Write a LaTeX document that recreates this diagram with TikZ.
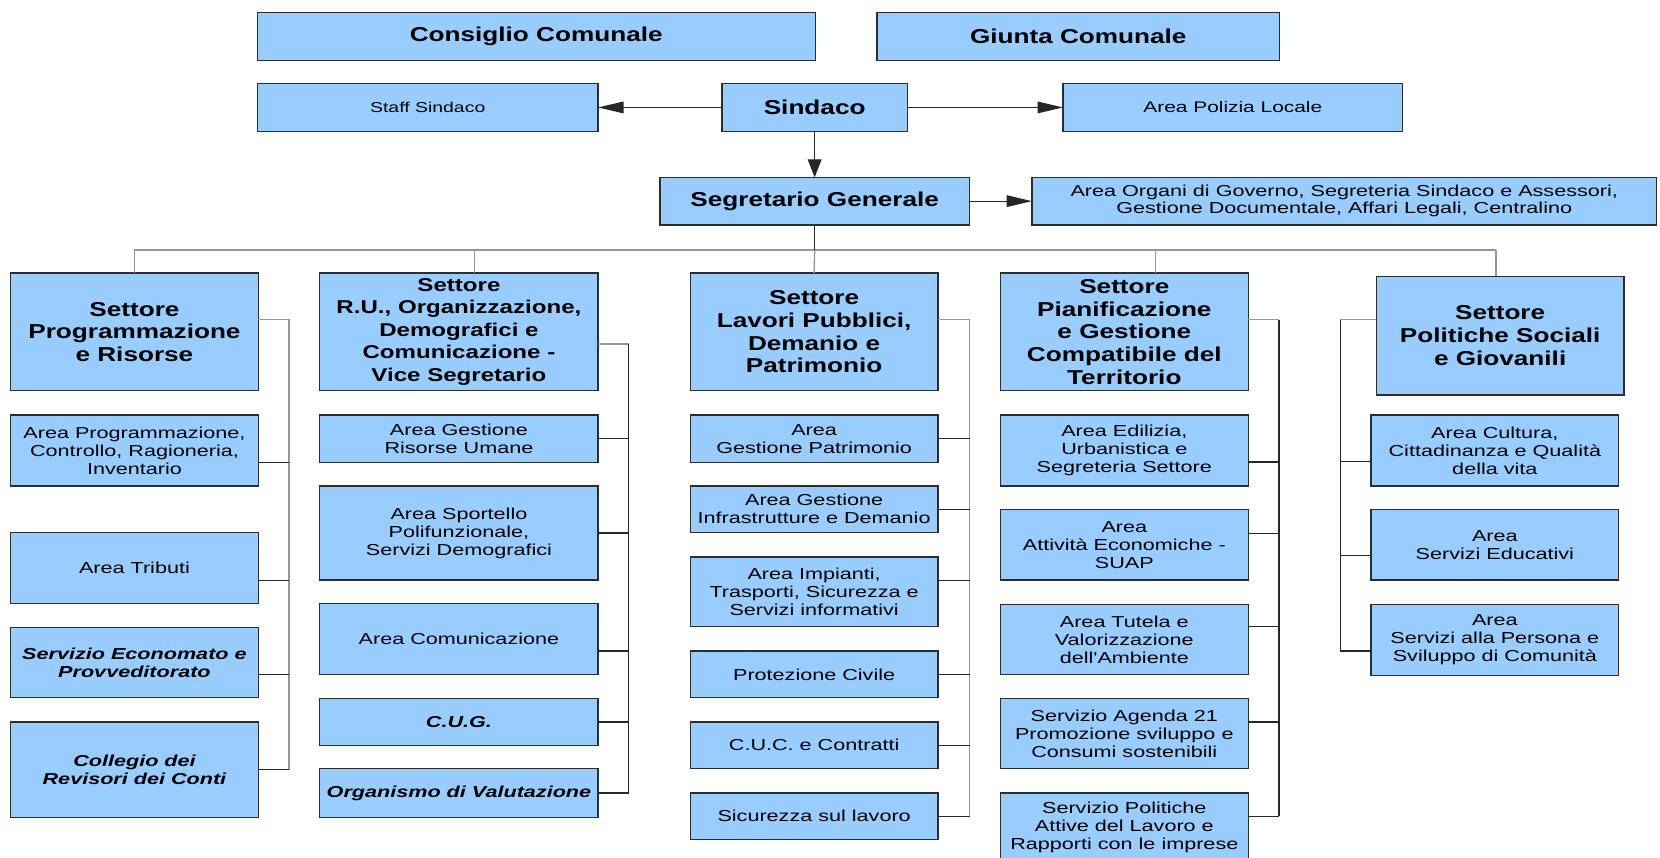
\documentclass[tikz,border=0pt]{standalone}
\usepackage{fontspec}
\newfontfamily\fontA{Liberation Sans}[FakeStretch=1.36]
\newfontfamily\fontB{Liberation Sans}[FakeStretch=1.30]
\usetikzlibrary{arrows.meta}
\definecolor{boxblue}{RGB}{153,204,255}
\definecolor{bordergray}{RGB}{45,45,45}
\definecolor{linegray}{RGB}{150,150,150}
\definecolor{linedark}{RGB}{40,40,40}
\tikzset{
  box/.style={draw=bordergray, line width=1.3pt, fill=boxblue, align=center, inner sep=0pt, outer sep=0pt},
  topb/.style={box, font=\fontB\bfseries\fontsize{19}{21}\selectfont},
  setb/.style={box, font=\fontB\bfseries\fontsize{19}{21.5}\selectfont},
  sm/.style={box, font=\fontA\fontsize{15}{17}\selectfont},
  smbi/.style={box, font=\fontA\bfseries\itshape\fontsize{15}{17.5}\selectfont},
  gl/.style={draw=linegray, line width=1.3pt},
  dl/.style={draw=linedark, line width=1.2pt},
  harrow/.style={draw=black!85, line width=1.1pt, -{Triangle[length=24pt,width=11pt]}},
  varrow/.style={draw=black!85, line width=1.1pt, -{Triangle[length=17pt,width=13pt]}},
}
\begin{document}
\begin{tikzpicture}[x=1pt,y=-1pt]
\path[use as bounding box, fill=white] (0,0) rectangle (1568,810);

% ---- top part ----
\node[topb, minimum width=527pt, minimum height=45pt] (cons) at (506.5,34.5) {Consiglio Comunale};
\node[topb, minimum width=380pt, minimum height=45pt] (giunta) at (1018.5,34.5) {Giunta Comunale};
\node[box, font=\fontA\fontsize{13.5}{15}\selectfont, minimum width=322pt, minimum height=45pt] (staff) at (404,101.5) {Staff Sindaco};
\node[topb, minimum width=175pt, minimum height=45pt] (sind) at (769.5,101.5) {Sindaco};
\node[box, font=\fontA\fontsize{14.5}{16}\selectfont, minimum width=321pt, minimum height=45pt] (poliz) at (1164.5,101.5) {Area Polizia Locale};
\node[topb, minimum width=292pt, minimum height=45pt] (segr) at (769.5,190) {Segretario Generale};
\node[box, font=\fontA\fontsize{15}{16}\selectfont, minimum width=590pt, minimum height=45pt] (organi) at (1269.75,190) {Area Organi di Governo, Segreteria Sindaco e Assessori,\\Gestione Documentale, Affari Legali, Centralino};

\draw[harrow] (sind.west) -- (staff.east);
\draw[harrow] (sind.east) -- (poliz.west);
\draw[varrow] (sind.south) -- (sind.south |- segr.north);
\draw[harrow] (segr.east) -- (organi.west);

% ---- column 1 ----
\node[setb, minimum width=234pt, minimum height=111pt] (c1s) at (127,313.5) {Settore\\Programmazione\\e Risorse};
\node[sm, minimum width=234pt, minimum height=67pt] (c1a) at (127,425.5) {Area Programmazione,\\Controllo, Ragioneria,\\Inventario};
\node[sm, minimum width=234pt, minimum height=67pt] (c1b) at (127,536.5) {Area Tributi};
\node[smbi, minimum width=234pt, minimum height=66pt] (c1c) at (127,626) {Servizio Economato e\\Provveditorato};
\node[smbi, minimum width=234pt, minimum height=90pt] (c1d) at (127,727) {Collegio dei\\Revisori dei Conti};

% ---- column 2 ----
\node[setb, font=\fontB\bfseries\fontsize{17.5}{21.3}\selectfont, minimum width=263pt, minimum height=111pt] (c2s) at (433.5,313.5) {Settore\\R.U., Organizzazione,\\Demografici e\\Comunicazione -\\Vice Segretario};
\node[sm, minimum width=263pt, minimum height=45pt] (c2a) at (433.5,414.5) {Area Gestione\\Risorse Umane};
\node[sm, minimum width=263pt, minimum height=89pt] (c2b) at (433.5,503.5) {Area Sportello\\Polifunzionale,\\Servizi Demografici};
\node[sm, minimum width=263pt, minimum height=67pt] (c2c) at (433.5,603.5) {Area Comunicazione};
\node[smbi, minimum width=263pt, minimum height=44pt] (c2d) at (433.5,682) {C.U.G.};
\node[smbi, minimum width=263pt, minimum height=46pt] (c2e) at (433.5,749) {Organismo di Valutazione};

% ---- column 3 ----
\node[setb, minimum width=234pt, minimum height=111pt] (c3s) at (769,313.5) {Settore\\Lavori Pubblici,\\Demanio e\\Patrimonio};
\node[sm, minimum width=234pt, minimum height=45pt] (c3a) at (769,414.5) {Area\\Gestione Patrimonio};
\node[sm, minimum width=234pt, minimum height=44pt] (c3b) at (769,481) {Area Gestione\\Infrastrutture e Demanio};
\node[sm, minimum width=234pt, minimum height=66pt] (c3c) at (769,559) {Area Impianti,\\Trasporti, Sicurezza e\\Servizi informativi};
\node[sm, minimum width=234pt, minimum height=44pt] (c3d) at (769,637) {Protezione Civile};
\node[sm, minimum width=234pt, minimum height=44pt] (c3e) at (769,704) {C.U.C. e Contratti};
\node[sm, minimum width=234pt, minimum height=44pt] (c3f) at (769,771) {Sicurezza sul lavoro};

% ---- column 4 ----
\node[setb, minimum width=234pt, minimum height=111pt] (c4s) at (1062,313.5) {Settore\\Pianificazione\\e Gestione\\Compatibile del\\Territorio};
\node[sm, minimum width=234pt, minimum height=67pt] (c4a) at (1062,425.5) {Area Edilizia,\\Urbanistica e\\Segreteria Settore};
\node[sm, minimum width=234pt, minimum height=67pt] (c4b) at (1062,514.5) {Area\\Attività Economiche -\\SUAP};
\node[sm, minimum width=234pt, minimum height=66pt] (c4c) at (1062,604) {Area Tutela e\\Valorizzazione\\dell'Ambiente};
\node[sm, minimum width=234pt, minimum height=66pt] (c4d) at (1062,693) {Servizio Agenda 21\\Promozione sviluppo e\\Consumi sostenibili};
\node[sm, minimum width=234pt, minimum height=66pt] (c4e) at (1062,782) {Servizio Politiche\\Attive del Lavoro e\\Rapporti con le imprese};

% ---- column 5 ----
\node[setb, minimum width=234pt, minimum height=112pt] (c5s) at (1417,317) {Settore\\Politiche Sociali\\e Giovanili};
\node[sm, minimum width=234pt, minimum height=67pt] (c5a) at (1412,425.5) {Area Cultura,\\Cittadinanza e Qualità\\della vita};
\node[sm, minimum width=234pt, minimum height=67pt] (c5b) at (1412,514.5) {Area\\Servizi Educativi};
\node[sm, minimum width=234pt, minimum height=67pt] (c5c) at (1412,604.5) {Area\\Servizi alla Persona e\\Sviluppo di Comunità};

% ---- bus ----
\coordinate (bL) at (127,236);
\coordinate (bR) at (1413,236);
\coordinate (d2) at (448,236);
\coordinate (d4) at (1091.5,236);
\draw[gl] (bL) -- (bR);
\draw[dl] (segr.south) -- (segr.south |- bL);
\draw[gl] (bL) -- (c1s.north);
\draw[gl] (d2) -- (d2 |- c2s.north);
\draw[gl] (segr.south |- bL) -- (c3s.north);
\draw[gl] (d4) -- (d4 |- c4s.north);
\draw[gl] (bR) -- (bR |- c5s.north);

% ---- brackets ----
\coordinate (k1) at (273,302);
\draw[gl] (c1s.east |- k1) -- (k1) -- (k1 |- c1d.east);
\foreach \n/\s in {c1a/-11.5, c1b/-11.5, c1c/-11, c1d/0}{
  \coordinate (t) at ([yshift=\s pt]\n.east);
  \draw[dl] (t) -- (t -| k1);
}
\coordinate (k2) at (594,325);
\draw[gl] (c2s.east |- k2) -- (k2);
\draw[dl] (k2) -- (k2 |- c2e.east);
\foreach \n/\s in {c2a/0, c2b/0, c2c/-11.5, c2d/0, c2e/0}{
  \coordinate (t) at ([yshift=\s pt]\n.east);
  \draw[dl] (t) -- (t -| k2);
}
\coordinate (k3) at (916,302);
\draw[gl] (c3s.east |- k3) -- (k3) -- (k3 |- c3f.east);
\foreach \n/\s in {c3a/0, c3b/0, c3c/11, c3d/0, c3e/0, c3f/0}{
  \coordinate (t) at ([yshift=\s pt]\n.east);
  \draw[dl] (t) -- (t -| k3);
}
\coordinate (k4) at (1208,302);
\coordinate (k4e) at ([yshift=11pt]c4e.east);
\draw[gl] (c4s.east |- k4) -- (k4);
\draw[dl] (k4) -- (k4 |- k4e);
\foreach \n/\s in {c4a/-11, c4b/10.5, c4c/12, c4d/11, c4e/11}{
  \coordinate (t) at ([yshift=\s pt]\n.east);
  \draw[dl] (t) -- (t -| k4);
}
\coordinate (k5) at (1266,302);
\coordinate (k5e) at ([yshift=-10.5pt]c5c.west);
\draw[gl] (c5s.west |- k5) -- (k5);
\draw[dl] (k5) -- (k5 |- k5e);
\foreach \n/\s in {c5a/-10.5, c5b/-10.5, c5c/-10.5}{
  \coordinate (t) at ([yshift=\s pt]\n.west);
  \draw[dl] (t) -- (t -| k5);
}
\end{tikzpicture}
\end{document}
